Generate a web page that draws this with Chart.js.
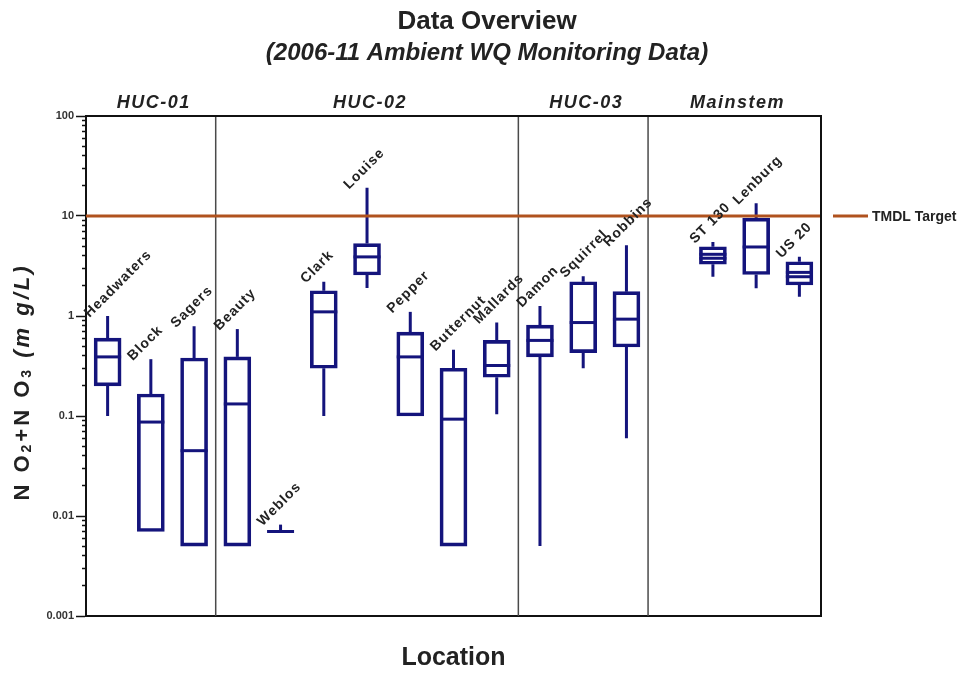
<!DOCTYPE html>
<html>
<head>
<meta charset="utf-8">
<title>Data Overview</title>
<script src="https://cdn.jsdelivr.net/npm/chart.js@4.4.1/dist/chart.umd.min.js"></script>
<style>
  html, body { margin: 0; padding: 0; background: #fff; }
</style>
</head>
<body>
<canvas id="myChart" width="974" height="676"></canvas>
<script>
// locations along the x axis (blank slot separates HUC-03 and Mainstem)
var locations = ['Headwaters', 'Block', 'Sagers', 'Beauty', 'Weblos', 'Clark', 'Louise', 'Pepper',
                 'Butternut', 'Mallards', 'Damon', 'Squirrel', 'Robbins', '', 'ST 130', 'Lenburg', 'US 20'];

// box plot statistics, NO2+NO3 in mg/L
var whiskerLow  = [0.1,  0.007, 0.005, 0.005, 0.007,  0.1,  1.9,  0.1,  0.005, 0.104, 0.005, 0.3,  0.06, null, 2.47, 1.89, 1.56];
var quart1      = [0.2,  0.007, 0.005, 0.005, 0.007,  0.3,  2.57, 0.1,  0.005, 0.244, 0.39,  0.43, 0.49, null, 3.29, 2.6,  2.04];
var medians     = [0.39, 0.087, 0.045, 0.132, 0.007,  1.1,  3.9,  0.39, 0.093, 0.32,  0.57,  0.86, 0.93, null, 3.78, 4.9,  2.47];
var quart3      = [0.6,  0.166, 0.38,  0.39,  0.007,  1.79, 5.3,  0.69, 0.3,   0.57,  0.81,  2.2,  1.75, null, 4.93, 9.5,  3.49];
var whiskerHigh = [1.0,  0.37,  0.79,  0.74,  0.0082, 2.2,  19.2, 1.1,  0.46,  0.86,  1.26,  2.5,  5.1,  null, 5.5,  13.4, 3.92];
// second line visible inside the two small Mainstem boxes
var means       = [null, null, null, null, null, null, null, null, null, null, null, null, null, null, 4.14, null, 2.73];

// watershed groups (first / last index into locations)
var groupNames = ['HUC-01', 'HUC-02', 'HUC-03', 'Mainstem'];
var groupFirst = [0, 3, 10, 13];
var groupLast  = [2, 9, 12, 16];

var tmdlTarget = 10;
var yTickValues = [0.001, 0.01, 0.1, 1, 10, 100];
var yTickLabels = ['0.001', '0.01', '0.1', '1', '10', '100'];

var boxColor = '#14147c';
var tmdlColor = '#b0521e';

Chart.defaults.font.family = "'Liberation Sans', Arial, sans-serif";

function isDecade(v) {
  var l = Math.log10(v);
  return Math.abs(l - Math.round(l)) < 1e-6;
}

var boxData = quart1.map(function (v, i) {
  return v == null ? null : [v, quart3[i]];
});

var boxExtras = {
  id: 'boxExtras',
  beforeDatasetsDraw: function (chart) {
    var ctx = chart.ctx, x = chart.scales.x, y = chart.scales.y, area = chart.chartArea;
    var step = x.width / locations.length;
    ctx.save();
    // group dividers
    ctx.strokeStyle = '#4a4a4a';
    ctx.lineWidth = 1.5;
    for (var g = 1; g < groupNames.length; g++) {
      var dx = x.getPixelForValue(groupFirst[g]) - step / 2;
      ctx.beginPath();
      ctx.moveTo(dx, area.top);
      ctx.lineTo(dx, area.bottom);
      ctx.stroke();
    }
    // whiskers
    ctx.strokeStyle = boxColor;
    ctx.lineWidth = 3;
    for (var i = 0; i < locations.length; i++) {
      if (quart1[i] == null) continue;
      var cx = x.getPixelForValue(i);
      ctx.beginPath();
      ctx.moveTo(cx, y.getPixelForValue(whiskerLow[i]));
      ctx.lineTo(cx, y.getPixelForValue(quart1[i]));
      ctx.moveTo(cx, y.getPixelForValue(quart3[i]));
      ctx.lineTo(cx, y.getPixelForValue(whiskerHigh[i]));
      ctx.stroke();
    }
    ctx.restore();
  },
  afterDatasetsDraw: function (chart) {
    var ctx = chart.ctx, x = chart.scales.x, y = chart.scales.y, area = chart.chartArea;
    var step = x.width / locations.length;
    var meta = chart.getDatasetMeta(0);
    ctx.save();

    // medians (and the extra inner line where present)
    ctx.strokeStyle = boxColor;
    ctx.lineWidth = 3;
    meta.data.forEach(function (bar, i) {
      if (medians[i] == null) return;
      var p = bar.getProps(['x', 'width'], true);
      [medians[i], means[i]].forEach(function (v) {
        if (v == null) return;
        var my = y.getPixelForValue(v);
        ctx.beginPath();
        ctx.moveTo(p.x - p.width / 2, my);
        ctx.lineTo(p.x + p.width / 2, my);
        ctx.stroke();
      });
    });

    // TMDL target line
    var ty = y.getPixelForValue(tmdlTarget);
    ctx.strokeStyle = tmdlColor;
    ctx.lineWidth = 3;
    ctx.beginPath();
    ctx.moveTo(area.left, ty);
    ctx.lineTo(area.right, ty);
    ctx.stroke();

    // frame top/right
    ctx.strokeStyle = '#111';
    ctx.lineWidth = 2;
    ctx.beginPath();
    ctx.moveTo(area.left, area.top);
    ctx.lineTo(area.right, area.top);
    ctx.lineTo(area.right, area.bottom);
    ctx.stroke();

    // legend for the target line
    ctx.strokeStyle = tmdlColor;
    ctx.lineWidth = 3;
    ctx.beginPath();
    ctx.moveTo(area.right + 12, ty);
    ctx.lineTo(area.right + 47, ty);
    ctx.stroke();
    ctx.fillStyle = '#222';
    ctx.font = "bold 14px 'Liberation Sans', Arial, sans-serif";
    ctx.textAlign = 'left';
    ctx.textBaseline = 'middle';
    ctx.fillText('TMDL Target', area.right + 51, ty + 1);

    // group labels
    ctx.font = "italic bold 18px 'Liberation Sans', Arial, sans-serif";
    ctx.letterSpacing = '1.5px';
    ctx.textAlign = 'center';
    for (var g = 0; g < groupNames.length; g++) {
      var gl = x.getPixelForValue(groupFirst[g]) - step / 2;
      var gr = x.getPixelForValue(groupLast[g]) + step / 2;
      ctx.fillText(groupNames[g], (gl + gr) / 2 + 3, area.top - 13);
    }

    // rotated location labels above each box
    ctx.font = "bold 14px 'Liberation Sans', Arial, sans-serif";
    ctx.letterSpacing = '1px';
    ctx.fillStyle = '#222';
    ctx.textAlign = 'left';
    ctx.textBaseline = 'alphabetic';
    for (var i = 0; i < locations.length; i++) {
      if (!locations[i]) continue;
      var cx = x.getPixelForValue(i);
      var top = y.getPixelForValue(whiskerHigh[i]);
      ctx.save();
      ctx.translate(cx - 18, top + 2);
      ctx.rotate(-Math.PI / 4);
      ctx.fillText(locations[i], 0, 0);
      ctx.restore();
    }

    // y axis title with subscripts
    var parts = [
      { t: 'N O', f: "bold 22px 'Liberation Sans', Arial, sans-serif", dy: 0 },
      { t: '2',   f: "bold 14px 'Liberation Sans', Arial, sans-serif", dy: 4 },
      { t: '+N O', f: "bold 22px 'Liberation Sans', Arial, sans-serif", dy: 0 },
      { t: '3',   f: "bold 14px 'Liberation Sans', Arial, sans-serif", dy: 4 },
      { t: ' (m g/L)', f: "italic bold 22px 'Liberation Sans', Arial, sans-serif", dy: 0 }
    ];
    ctx.letterSpacing = '3px';
    ctx.fillStyle = '#222';
    ctx.textBaseline = 'middle';
    var total = 0;
    parts.forEach(function (p) { ctx.font = p.f; p.w = ctx.measureText(p.t).width; total += p.w; });
    ctx.save();
    ctx.translate(23, (area.top + area.bottom) / 2 + 16);
    ctx.rotate(-Math.PI / 2);
    var px = -total / 2;
    parts.forEach(function (p) {
      ctx.font = p.f;
      ctx.fillText(p.t, px, p.dy);
      px += p.w;
    });
    ctx.restore();

    ctx.letterSpacing = '0px';
    ctx.restore();
  }
};

var ctx = document.getElementById('myChart').getContext('2d');
var chart = new Chart(ctx, {
  type: 'bar',
  data: {
    labels: locations,
    datasets: [{
      label: 'NO2+NO3',
      data: boxData,
      backgroundColor: 'rgba(0,0,0,0)',
      borderColor: boxColor,
      borderWidth: 3,
      borderSkipped: false,
      barThickness: 27
    }]
  },
  options: {
    responsive: false,
    animation: false,
    layout: { padding: 0 },
    plugins: {
      legend: { display: false },
      tooltip: { enabled: false },
      title: {
        display: true,
        text: 'Data Overview',
        color: '#222',
        font: { size: 26, weight: 'bold' },
        padding: { top: 6, bottom: 0 }
      },
      subtitle: {
        display: true,
        text: '(2006-11 Ambient WQ Monitoring Data)',
        color: '#222',
        font: { size: 24, weight: 'bold', style: 'italic' },
        padding: { top: 2, bottom: 48 }
      }
    },
    scales: {
      x: {
        type: 'category',
        offset: true,
        grid: { display: false },
        border: { display: true, color: '#111', width: 2 },
        ticks: { display: false },
        title: {
          display: true,
          text: 'Location',
          color: '#222',
          font: { size: 25, weight: 'bold' },
          padding: { top: 0, bottom: 3 }
        },
        afterFit: function (s) { s.height = 60; }
      },
      y: {
        type: 'logarithmic',
        min: 0.001,
        max: 100,
        afterBuildTicks: function (s) {
          s.ticks = s.ticks.filter(function (t) {
            var e = Math.pow(10, Math.floor(Math.log10(t.value) + 1e-9));
            var m = t.value / e;
            return Math.abs(m - Math.round(m)) < 1e-6;
          });
        },
        afterFit: function (s) { s.width = 86; },
        border: { display: true, color: '#111', width: 2 },
        grid: {
          drawOnChartArea: false,
          drawTicks: true,
          tickLength: 10,
          tickColor: '#111',
          tickWidth: 1.5,
          tickBorderDash: function (c) {
            return (c.tick && isDecade(c.tick.value)) ? [] : [0, 6, 4, 100];
          }
        },
        ticks: {
          autoSkip: false,
          padding: 2,
          color: '#333',
          font: { size: 11, weight: 'bold' },
          callback: function (v) {
            for (var k = 0; k < yTickValues.length; k++) {
              if (Math.abs(v / yTickValues[k] - 1) < 1e-6) return yTickLabels[k];
            }
            return '';
          }
        }
      },
      yRight: {
        type: 'linear',
        position: 'right',
        display: true,
        grid: { display: false },
        border: { display: false },
        ticks: { display: false },
        afterFit: function (s) { s.width = 153; }
      }
    }
  },
  plugins: [boxExtras]
});
</script>
</body>
</html>
